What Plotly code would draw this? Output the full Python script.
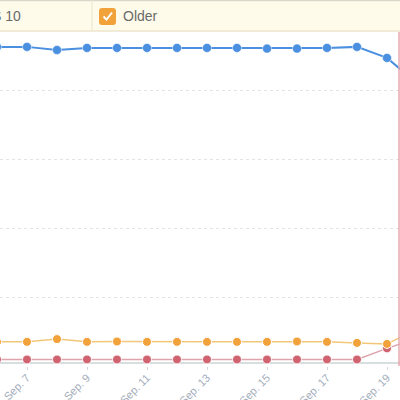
import plotly.graph_objects as go

# daily share of devices (percent)
dates = ['2017-09-%02d' % d for d in range(6, 21)]
ios10 = [92.5, 92.5, 91.6, 92.2, 92.2, 92.2, 92.2, 92.2, 92.2, 92.0, 92.0, 92.2, 92.5, 89.3, 82.0]
older = [7.0, 7.0, 7.8, 7.0, 7.1, 7.0, 7.0, 7.0, 7.0, 7.0, 7.1, 7.0, 6.7, 6.4, 10.7]
ios11 = [1.9, 1.9, 1.9, 1.9, 1.9, 1.9, 1.9, 1.9, 1.9, 1.9, 1.9, 1.9, 1.9, 5.1, 8.0]
other = [0.9, 0.9, 0.9, 0.9, 0.9, 0.9, 0.9, 0.9, 0.9, 0.9, 0.9, 0.9, 0.9, 0.9, 0.9]
legend_names = ['iOS 10', 'Older']

W, H = 400, 400
T, B = 32, 34
PH = H - T - B


def px(x):
	return x / W


def py(y):
	return (H - B - y) / PH


def rounded(x0, y0, x1, y1, r):
	a, b, c, d = px(x0), py(y0), px(x1), py(y1)
	rx, ry = r / W, r / PH
	return ('M %f,%f L %f,%f Q %f,%f %f,%f L %f,%f Q %f,%f %f,%f L %f,%f Q %f,%f %f,%f L %f,%f Q %f,%f %f,%f Z' % (
		a + rx, b, c - rx, b, c, b, c, b - ry, c, d + ry, c, d, c - rx, d,
		a + rx, d, a, d, a, d + ry, a, b - ry, a, b, a + rx, b))


layout = go.Layout(
	width=W, height=H,
	margin=dict(l=0, r=0, t=T, b=B, pad=0),
	paper_bgcolor='white',
	plot_bgcolor='white',
	showlegend=False,
	xaxis=dict(
		type='date',
		range=['2017-09-06 02:24', '2017-09-19 10:24'],
		tick0='2017-09-07', dtick=2 * 86400000,
		tickformat='%b. %-d', tickangle=-45,
		tickfont=dict(family='Liberation Sans', size=11, color='#a3adbb'),
		ticks='outside', ticklen=3, tickcolor='#d6d6d6', ticklabelstandoff=-3,
		showgrid=False, zeroline=False, showline=False, automargin=False,
	),
	yaxis=dict(
		range=[0, PH / 3.45], dtick=20,
		showgrid=True, gridcolor='#e4e4e4', griddash='dot', gridwidth=1,
		showticklabels=False, zeroline=False, showline=False, automargin=False,
	),
)

fig = go.Figure(layout=layout)

fig.add_trace(go.Scatter(x=dates, y=other, mode='lines',
	line=dict(color='#c9d3d6', width=1.5), hoverinfo='skip'))
fig.add_trace(go.Scatter(x=dates, y=ios11, mode='lines+markers', name='iOS 11',
	line=dict(color='#dea3ab', width=1.5),
	marker=dict(color='#cf6470', size=9, line=dict(color='white', width=1))))
fig.add_trace(go.Scatter(x=dates, y=older, mode='lines+markers', name='Older',
	line=dict(color='#f3c779', width=1.5),
	marker=dict(color='#f2a23a', size=9, line=dict(color='white', width=1))))
fig.add_trace(go.Scatter(x=dates, y=ios10, mode='lines+markers', name='iOS 10',
	line=dict(color='#4a8fe0', width=2),
	marker=dict(color='#4a8fe0', size=9, line=dict(color='white', width=0.5))))

fig.update_layout(
	shapes=[
		# legend strip
		dict(type='rect', xref='paper', yref='paper', x0=0, x1=1, y0=py(31), y1=py(0),
			fillcolor='#fefbea', line=dict(width=0), layer='above'),
		dict(type='line', xref='paper', yref='paper', x0=0, x1=1, y0=py(31), y1=py(31),
			line=dict(color='#ece5cc', width=1.5), layer='above'),
		dict(type='line', xref='paper', yref='paper', x0=0, x1=1, y0=py(0.5), y1=py(0.5),
			line=dict(color='#d9d6cc', width=1.5), layer='above'),
		dict(type='line', xref='paper', yref='paper', x0=px(92), x1=px(92), y0=py(31), y1=py(0),
			line=dict(color='#ece5cc', width=1), layer='above'),
		dict(type='path', xref='paper', yref='paper', path=rounded(99, 8, 116, 25, 3),
			fillcolor='#f2a23a', line=dict(width=0), layer='above'),
		dict(type='path', xref='paper', yref='paper',
			path='M %f,%f L %f,%f L %f,%f' % (px(103.5), py(16.5), px(106.5), py(19.5), px(112), py(12.5)),
			line=dict(color='white', width=2), layer='above'),
		# right hand marker line
		dict(type='line', xref='paper', yref='paper', x0=px(399), x1=px(399), y0=0, y1=1,
			line=dict(color='#e6a7af', width=1.5), layer='above'),
	],
	annotations=[
		dict(x=px(23), y=py(16), xref='paper', yref='paper', text=legend_names[0],
			xanchor='right', yanchor='middle', showarrow=False,
			font=dict(family='Liberation Sans', size=14, color='#6a6a6a')),
		dict(x=px(121), y=py(16), xref='paper', yref='paper', text=legend_names[1],
			xanchor='left', yanchor='middle', showarrow=False,
			font=dict(family='Liberation Sans', size=14, color='#6a6a6a')),
	],
)

# page body has an 8px default margin; drop it so the 400x400 figure fills the window
fig.write_html("out.html", config={'displayModeBar': False},
	post_script="document.body.style.margin='0';")
